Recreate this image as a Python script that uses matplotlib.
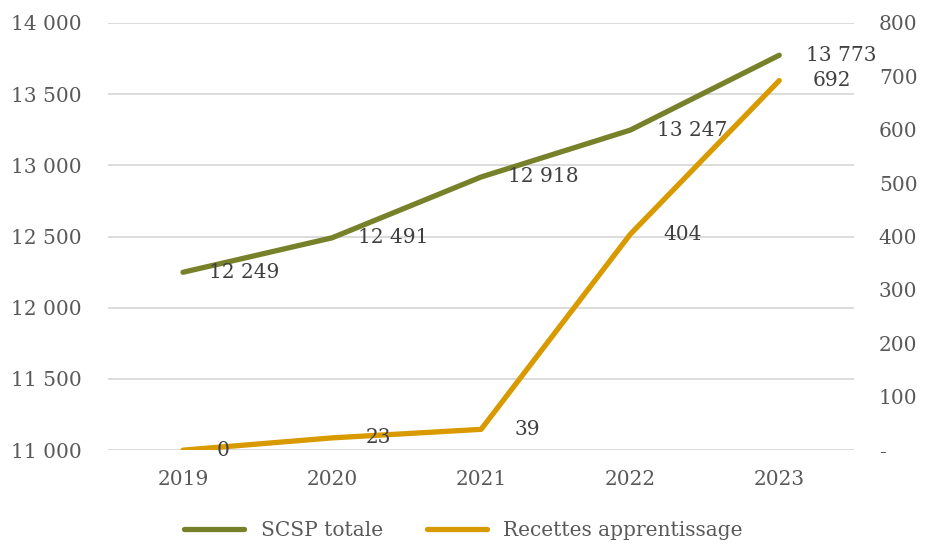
import matplotlib.pyplot as plt
from matplotlib.ticker import FuncFormatter

# donnees
annees = ["2019", "2020", "2021", "2022", "2023"]
scsp_totale = [12249, 12491, 12918, 13247, 13773]
recettes_apprentissage = [0, 23, 39, 404, 692]

vert = "#76812A"
orange = "#D99A00"
taille = 14.5

plt.rcParams["font.family"] = ["DejaVu Serif"]

fig = plt.figure(figsize=(9.27, 5.45), dpi=100)
ax = fig.add_axes([0.117, 0.174, 0.804, 0.784])
ax2 = ax.twinx()

x = range(len(annees))


def fmt_milliers(v, pos=None):
    return f"{int(round(v)):,}".replace(",", " ")


def fmt_droite(v, pos=None):
    if abs(v) < 1e-9:
        return "-"
    return f"{int(round(v))}"


l1, = ax.plot(x, scsp_totale, color=vert, lw=3.8, solid_capstyle="round", zorder=3)
l2, = ax2.plot(x, recettes_apprentissage, color=orange, lw=3.8, solid_capstyle="round", zorder=3)

ax.set_xlim(-0.5, len(annees) - 0.5)
ax.set_ylim(11000, 14000)
ax2.set_ylim(0, 800)
ax.set_yticks(range(11000, 14001, 500))
ax2.set_yticks(range(0, 801, 100))
ax.yaxis.set_major_formatter(FuncFormatter(fmt_milliers))
ax2.yaxis.set_major_formatter(FuncFormatter(fmt_droite))
ax.set_xticks(list(x))
ax.set_xticklabels(annees)

ax.grid(axis="y", color="#D9D9D9", lw=1.3, zorder=0)
ax.set_axisbelow(True)
for a in (ax, ax2):
    for s in a.spines.values():
        s.set_visible(False)
    a.tick_params(length=0, labelsize=taille, labelcolor="#595959")
ax.tick_params(axis="y", pad=19)
ax.tick_params(axis="x", pad=14)
ax2.tick_params(axis="y", pad=18)

# etiquettes de donnees
for i, v in enumerate(scsp_totale):
    ax.annotate(fmt_milliers(v), (i, v), xytext=(19, 0), textcoords="offset points",
                ha="left", va="center", fontsize=taille, color="#404040", zorder=5)
for i, v in enumerate(recettes_apprentissage):
    ax2.annotate(fmt_milliers(v), (i, v), xytext=(24, 0), textcoords="offset points",
                 ha="left", va="center", fontsize=taille, color="#404040", zorder=5)

fig.legend([l1, l2], ["SCSP totale", "Recettes apprentissage"], loc="lower center",
           bbox_to_anchor=(0.5, -0.025), ncol=2, frameon=False, fontsize=taille,
           labelcolor="#595959", handlelength=3.0, columnspacing=2.2)

fig.savefig("out.png", dpi=100)
